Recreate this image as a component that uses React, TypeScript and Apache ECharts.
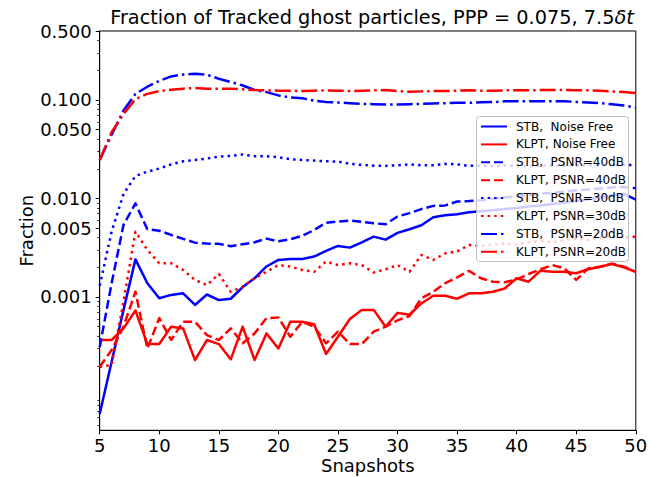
import React, { useEffect, useRef } from 'react';
import * as echarts from 'echarts';

const snapshots = [5, 6, 7, 8, 9, 10, 11, 12, 13, 14, 15, 16, 17, 18, 19, 20, 21, 22, 23, 24, 25, 26, 27, 28, 29, 30, 31, 32, 33, 34, 35, 36, 37, 38, 39, 40, 41, 42, 43, 44, 45, 46, 47, 48, 49, 50];

const stbNoiseFree = [6.5e-5, 2.2e-4, 7.4e-4, 0.00241, 0.00138, 0.00097, 0.00105, 0.00109, 0.00083, 0.00106, 0.00093, 0.00096, 0.00126, 0.00155, 0.00204, 0.00238, 0.00243, 0.00243, 0.00257, 0.00294, 0.0033, 0.00317, 0.00359, 0.0041, 0.00382, 0.00447, 0.00487, 0.00535, 0.00645, 0.00676, 0.00692, 0.00725, 0.0074, 0.0076, 0.0078, 0.008, 0.0083, 0.0085, 0.0088, 0.0091, 0.0094, 0.0098, 0.0102, 0.0107, 0.0111, 0.0097];
const klptNoiseFree = [3.66e-4, 3.66e-4, 4.8e-4, 7.3e-4, 3.33e-4, 3.33e-4, 5.0e-4, 4.8e-4, 2.29e-4, 3.66e-4, 3.33e-4, 2.33e-4, 5.0e-4, 2.29e-4, 4.27e-4, 3.0e-4, 5.6e-4, 5.6e-4, 5.3e-4, 2.64e-4, 3.95e-4, 5.98e-4, 7.4e-4, 7.4e-4, 5.0e-4, 6.9e-4, 6.6e-4, 8.6e-4, 0.00103, 0.00103, 9.6e-4, 0.00109, 0.00109, 0.00113, 0.00122, 0.00155, 0.00143, 0.00185, 0.0018, 0.0018, 0.00174, 0.00191, 0.00203, 0.00216, 0.002, 0.0018];
const stbPsnr40 = [3.1e-4, 0.00138, 0.0054, 0.0089, 0.00487, 0.0047, 0.00427, 0.00389, 0.00356, 0.00348, 0.00346, 0.00328, 0.00343, 0.00359, 0.00391, 0.00367, 0.00385, 0.00417, 0.00478, 0.00567, 0.00582, 0.00596, 0.00578, 0.0056, 0.00547, 0.00655, 0.0071, 0.0078, 0.0084, 0.0085, 0.0093, 0.0094, 0.0096, 0.0099, 0.0103, 0.0105, 0.0108, 0.0112, 0.0114, 0.0117, 0.0121, 0.0123, 0.0126, 0.0129, 0.0131, 0.0127];
const klptPsnr40 = [1.96e-4, 2.9e-4, 5.0e-4, 0.00113, 3.0e-4, 6.1e-4, 3.66e-4, 5.6e-4, 5.6e-4, 4.1e-4, 3.66e-4, 4.8e-4, 3.39e-4, 4.27e-4, 6.1e-4, 6.2e-4, 3.95e-4, 5.6e-4, 5.0e-4, 3.39e-4, 4.45e-4, 3.33e-4, 3.33e-4, 4.45e-4, 5.0e-4, 5.8e-4, 6.4e-4, 9.7e-4, 0.00113, 0.00138, 0.00158, 0.00184, 0.00155, 0.00143, 0.00141, 0.00151, 0.00171, 0.00191, 0.00211, 0.00195, 0.00149, 0.00195, 0.00203, 0.00218, 0.00203, 0.0018];
const stbPsnr30 = [0.0013, 0.0046, 0.0111, 0.0169, 0.0187, 0.0201, 0.0222, 0.0238, 0.0246, 0.0254, 0.0266, 0.027, 0.0279, 0.0268, 0.0268, 0.0262, 0.025, 0.0246, 0.0242, 0.0238, 0.0237, 0.0224, 0.0219, 0.0215, 0.0214, 0.0217, 0.0222, 0.0217, 0.0217, 0.0224, 0.0222, 0.0214, 0.0215, 0.0213, 0.0216, 0.0214, 0.0212, 0.0215, 0.0217, 0.0214, 0.0216, 0.0218, 0.0217, 0.0219, 0.0218, 0.0219];
const klptPsnr30 = [1.96e-4, 2.04e-4, 9.0e-4, 0.0046, 0.003, 0.0022, 0.0022, 0.00188, 0.00149, 0.00132, 0.00171, 0.00113, 0.00127, 0.00155, 0.0018, 0.00211, 0.00204, 0.00188, 0.0018, 0.00229, 0.00211, 0.0022, 0.00211, 0.00177, 0.00191, 0.00211, 0.0018, 0.00267, 0.00238, 0.00277, 0.0029, 0.00337, 0.0033, 0.0034, 0.0035, 0.0034, 0.0036, 0.0037, 0.0036, 0.0038, 0.0039, 0.0038, 0.004, 0.0041, 0.004, 0.0041];
const stbPsnr20 = [0.0246, 0.0442, 0.078, 0.115, 0.136, 0.156, 0.173, 0.181, 0.184, 0.18, 0.164, 0.152, 0.14, 0.126, 0.12, 0.111, 0.106, 0.104, 0.0984, 0.0954, 0.094, 0.0926, 0.0911, 0.0904, 0.0897, 0.0897, 0.0904, 0.0911, 0.0918, 0.0926, 0.0934, 0.0934, 0.0948, 0.095, 0.0966, 0.097, 0.097, 0.097, 0.097, 0.097, 0.0954, 0.094, 0.0926, 0.0904, 0.0876, 0.0836];
const klptPsnr20 = [0.0246, 0.047, 0.072, 0.102, 0.115, 0.123, 0.127, 0.13, 0.132, 0.13, 0.13, 0.13, 0.128, 0.126, 0.125, 0.124, 0.124, 0.123, 0.124, 0.125, 0.124, 0.123, 0.124, 0.125, 0.126, 0.123, 0.121, 0.122, 0.123, 0.123, 0.124, 0.125, 0.124, 0.124, 0.125, 0.125, 0.125, 0.126, 0.126, 0.126, 0.125, 0.125, 0.124, 0.122, 0.12, 0.117];

const seriesNames = [
  'STB,  Noise Free',
  'KLPT, Noise Free',
  'STB,  PSNR=40dB',
  'KLPT, PSNR=40dB',
  'STB,  PSNR=30dB',
  'KLPT, PSNR=30dB',
  'STB,  PSNR=20dB',
  'KLPT, PSNR=20dB',
];
const seriesValues = [stbNoiseFree, klptNoiseFree, stbPsnr40, klptPsnr40, stbPsnr30, klptPsnr30, stbPsnr20, klptPsnr20];

const yTickValues = [0.001, 0.005, 0.01, 0.05, 0.1, 0.5];
const yTickLabels = ['0.001', '0.005', '0.010', '0.050', '0.100', '0.500'];
const yMin = 4.44e-5;
const yMax = 0.5;
const xMin = 5;
const xMax = 50;
const xInterval = 5;

const BLUE = '#0000ff';
const RED = '#ff0000';
const FONT = 'DejaVu Sans';
const LW = 2.5;
const dashStyles: any[] = ['solid', [9, 4], [2.5, 4.1], [16, 4, 2.5, 4]];

function minorTickValues(): number[] {
  const out: number[] = [];
  for (let e = -5; e <= 0; e++) {
    for (let m = 2; m <= 9; m++) {
      const v = m * Math.pow(10, e);
      if (v < yMin || v > yMax) continue;
      if (yTickValues.some((t) => Math.abs(t - v) / t < 1e-6)) continue;
      out.push(Math.log10(v));
    }
  }
  return out;
}

export default function App() {
  const ref = useRef<HTMLDivElement>(null);
  useEffect(() => {
    if (!ref.current) return;
    const chart = echarts.init(ref.current, undefined, { renderer: 'svg' });
    const lmin = Math.log10(yMin);
    const lmax = Math.log10(yMax);
    const majorLog = yTickValues.map((v) => Math.log10(v));
    const series = seriesNames.map((name, i) => ({
      name,
      type: 'line',
      yAxisIndex: 0,
      data: snapshots.map((s, j) => [s, seriesValues[i][j]]),
      showSymbol: false,
      symbol: 'none',
      color: i % 2 === 0 ? BLUE : RED,
      lineStyle: {
        color: i % 2 === 0 ? BLUE : RED,
        width: LW,
        type: dashStyles[Math.floor(i / 2)],
        join: 'round',
      },
      emphasis: { disabled: true },
    }));
    const option: any = {
      animation: false,
      backgroundColor: '#ffffff',
      title: {
        text: 'Fraction of Tracked ghost particles, PPP = 0.075, 7.5{it|δt}',
        left: 367,
        top: 3,
        textAlign: 'center',
        textStyle: {
          fontFamily: FONT,
          fontSize: 19.3,
          fontWeight: 'normal',
          color: '#000',
          rich: { it: { fontFamily: FONT, fontSize: 19.3, fontStyle: 'italic', color: '#000' } },
        },
      },
      grid: {
        left: 99.7,
        right: 29.2,
        top: 31,
        bottom: 46.7,
        show: true,
        borderColor: '#000',
        borderWidth: 1,
        backgroundColor: 'transparent',
        containLabel: false,
        outerBoundsMode: 'none',
      },
      graphic: [
        {
          type: 'rect',
          z: 50,
          silent: true,
          shape: { x: 476.5, y: 116.5, width: 152, height: 145, r: 3 },
          style: { fill: 'rgba(255,255,255,0.8)', stroke: '#bdbdbd', lineWidth: 1 },
        },
      ],
      legend: {
        orient: 'vertical',
        left: 477,
        top: 117,
        z: 60,
        itemWidth: 26,
        itemHeight: 12,
        itemGap: 5.9,
        padding: [3.5, 6, 5, 3],
        selectedMode: false,
        itemStyle: { opacity: 0 },
        textStyle: { fontFamily: FONT, fontSize: 12, color: '#000', padding: [0, 0, 0, 4] },
        data: seriesNames,
      },
      xAxis: {
        type: 'value',
        min: xMin,
        max: xMax,
        interval: xInterval,
        axisLine: { show: true, lineStyle: { color: '#000', width: 1 } },
        axisTick: { show: true, length: 4, inside: false, lineStyle: { color: '#000', width: 1 } },
        axisLabel: { fontFamily: FONT, fontSize: 18, color: '#000', margin: 6 },
        splitLine: { show: false },
        name: 'Snapshots',
        nameLocation: 'middle',
        nameGap: 26,
        nameMoveOverlap: false,
        nameTextStyle: { fontFamily: FONT, fontSize: 18, color: '#000' },
      },
      yAxis: [
        {
          type: 'log',
          logBase: 10,
          min: yMin,
          max: yMax,
          position: 'left',
          show: false,
        },
        {
          type: 'value',
          min: lmin,
          max: lmax,
          position: 'left',
          axisLine: { show: true, lineStyle: { color: '#000', width: 1 } },
          axisTick: { show: true, length: 4, inside: false, customValues: majorLog, lineStyle: { color: '#000', width: 1 } },
          axisLabel: {
            customValues: majorLog,
            fontFamily: FONT,
            fontSize: 18,
            color: '#000',
            margin: 8,
            formatter: (v: number) => {
              const idx = majorLog.findIndex((t) => Math.abs(t - v) < 1e-6);
              return idx >= 0 ? yTickLabels[idx] : '';
            },
          },
          splitLine: { show: false },
          name: 'Fraction',
          nameLocation: 'middle',
          nameGap: 64,
          nameRotate: 90,
          nameMoveOverlap: false,
          nameTextStyle: { fontFamily: FONT, fontSize: 18, color: '#000' },
        },
        {
          type: 'value',
          min: lmin,
          max: lmax,
          position: 'left',
          axisLine: { show: false },
          axisTick: { show: true, length: 2.5, inside: false, customValues: minorTickValues(), lineStyle: { color: '#000', width: 0.8 } },
          axisLabel: { show: false },
          splitLine: { show: false },
        },
      ],
      series,
    };
    chart.setOption(option);
    return () => chart.dispose();
  }, []);
  return <div ref={ref} style={{ position: 'absolute', left: 0, top: 0, width: 665, height: 477 }} />;
}
